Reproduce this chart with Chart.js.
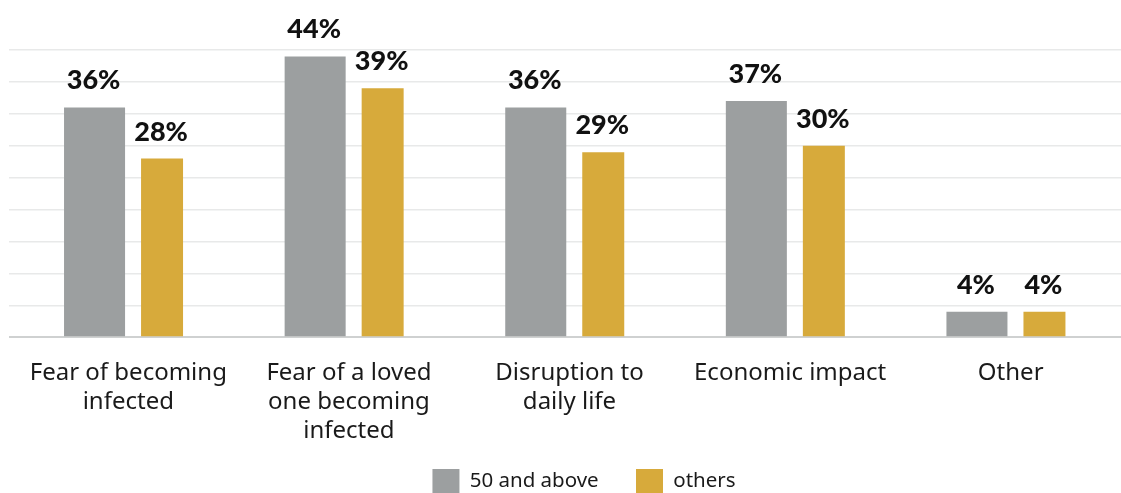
<!DOCTYPE html>
<html>
<head>
<meta charset="utf-8">
<script src="https://cdn.jsdelivr.net/npm/chart.js@4"></script>
<style>
  html, body { margin: 0; padding: 0; background: #fff; overflow: hidden; }
  #wrap { width: 1121px; height: 493px; position: relative; }
</style>
</head>
<body>
<div id="wrap"><canvas id="concerns-chart"></canvas></div>
<script>
const categories = [
    ['Fear of becoming', 'infected'],
    ['Fear of a loved', 'one becoming', 'infected'],
    ['Disruption to', 'daily life'],
    'Economic impact',
    'Other'
];
const olderValues = [36, 44, 36, 37, 4];
const othersValues = [28, 39, 29, 30, 4];
const seriesNames = ['50 and above', 'others'];

// draws the "36%" labels above each bar
const valueLabels = {
    id: 'valueLabels',
    afterDatasetsDraw(chart) {
        const ctx = chart.ctx;
        ctx.save();
        ctx.font = '900 27px Lato';
        ctx.fillStyle = '#111';
        ctx.textAlign = 'center';
        ctx.textBaseline = 'alphabetic';
        chart.data.datasets.forEach((ds, i) => {
            chart.getDatasetMeta(i).data.forEach((bar, j) => {
                ctx.fillText(ds.data[j] + '%', bar.x - 1, bar.y - 18);
            });
        });
        ctx.restore();
    }
};

// legend in the original sits lower and a bit right of centre
const legendShift = {
    id: 'legendShift',
    afterLayout(chart) {
        const lg = chart.legend;
        lg.left += 19;
        lg.right += 19;
        lg.top += 10;
        lg.bottom += 10;
    }
};

document.addEventListener('DOMContentLoaded', () => {
    const ctx = document.getElementById('concerns-chart').getContext('2d');
    new Chart(ctx, {
        type: 'bar',
        data: {
            labels: categories,
            datasets: [
                {
                    label: seriesNames[0],
                    data: olderValues,
                    backgroundColor: '#9c9fa0',
                    barPercentage: 0.904,
                    categoryPercentage: 0.612
                },
                {
                    label: seriesNames[1],
                    data: othersValues,
                    backgroundColor: '#d7aa3b',
                    barPercentage: 0.622,
                    categoryPercentage: 0.612
                }
            ]
        },
        options: {
            responsive: true,
            maintainAspectRatio: false,
            animation: false,
            layout: {
                padding: { top: 50, left: 9, right: 0, bottom: 0 }
            },
            plugins: {
                tooltip: { enabled: false },
                legend: {
                    position: 'bottom',
                    labels: {
                        boxWidth: 27,
                        boxHeight: 24,
                        padding: 0,
                        color: '#1a1a1a',
                        font: { family: 'Noto Sans', size: 20.5 },
                        generateLabels(chart) {
                            const items = Chart.defaults.plugins.legend.labels.generateLabels(chart);
                            // spacer after the first entry
                            items[0].text += '       ';
                            return items;
                        }
                    }
                }
            },
            scales: {
                x: {
                    grid: { display: false },
                    border: { color: '#cfd1d1', width: 2 },
                    ticks: {
                        color: '#1a1a1a',
                        padding: 14,
                        maxRotation: 0,
                        autoSkip: false,
                        font: { family: 'Noto Sans', size: 24, lineHeight: 1.19 }
                    }
                },
                y: {
                    min: 0,
                    max: 45,
                    grid: {
                        color: c => c.tick.value === 0 ? '#cfd1d1' : '#e8e9e9',
                        lineWidth: c => c.tick.value === 0 ? 2 : 1.5,
                        tickLength: 9
                    },
                    border: { display: false },
                    ticks: { display: false, stepSize: 5 }
                }
            }
        },
        plugins: [valueLabels, legendShift]
    });
});
</script>
</body>
</html>
